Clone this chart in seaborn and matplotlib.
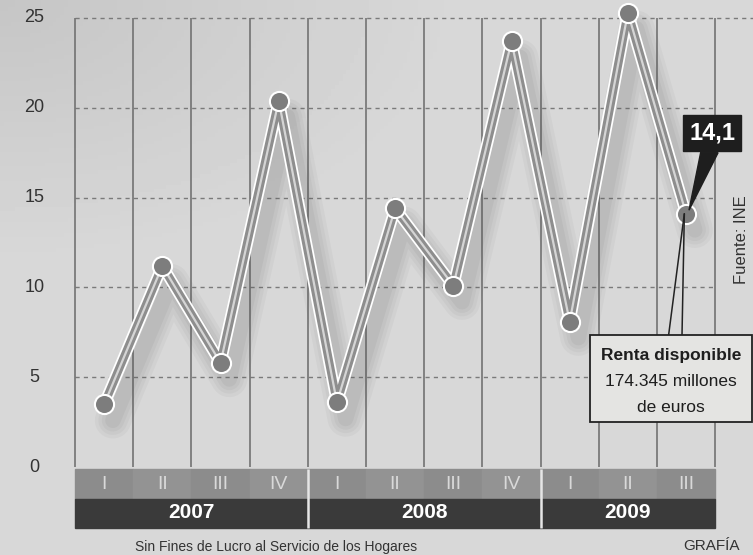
import numpy as np
import pandas as pd
import seaborn as sns
import matplotlib.pyplot as plt
from matplotlib.patches import Rectangle, Polygon

# data
quarters = ["I", "II", "III", "IV", "I", "II", "III", "IV", "I", "II", "III"]
years = ["2007", "2008", "2009"]
year_span = [4, 4, 3]
renta = [3.5, 11.2, 5.8, 20.4, 3.6, 14.4, 10.1, 23.7, 8.1, 25.3, 14.1]
y_ticks = [0, 5, 10, 15, 20, 25]

sns.set_theme(style="white")
plt.rcParams["font.family"] = ["Liberation Sans", "DejaVu Sans"]

df = pd.DataFrame({"pos": np.arange(len(renta)), "renta": renta})

fig = plt.figure(figsize=(7.53, 5.55), dpi=100)
fig.patch.set_facecolor("#d7d7d5")

# paper background with darker corner at top left
bg = fig.add_axes([0, 0, 1, 1], zorder=0)
gx, gy = np.meshgrid(np.linspace(0, 1, 200), np.linspace(0, 1, 150))
shade = 0.845 - 0.07 * np.clip(1 - np.hypot(gx, gy * 1.3) / 0.6, 0, 1)
bg.imshow(shade, cmap="gray", vmin=0, vmax=1, aspect="auto", extent=[0, 1, 0, 1], origin="upper")
bg.axis("off")

ax = fig.add_axes([0, 25 / 555, 1, 530 / 555], zorder=1)
ax.patch.set_alpha(0)
ax.set_xlim(-1.79, 11.15)
ax.set_ylim(-3.5, 26)
ax.axis("off")

n = len(renta)
# grid
for t in y_ticks[1:]:
    ax.hlines(t, -0.5, 10.5 if t < 25 else 11.2, colors="#7a7a7a", linestyles=(0, (3, 3)), lw=1)
for b in np.arange(n + 1) - 0.5:
    ax.vlines(b, 0, 25, colors="#6a6a6a", lw=1.1)
for t in y_ticks:
    ax.text(-1.2, t, str(t), ha="center", va="center", fontsize=13, color="#333333")

# soft shadow under the line
for k, a in enumerate([0.05, 0.05, 0.06, 0.07]):
    ax.plot(df["pos"] + 0.15, df["renta"] - 0.9, color="#555555", lw=26 - 5 * k, alpha=a,
            solid_capstyle="round", solid_joinstyle="round", zorder=2)

sns.lineplot(data=df, x="pos", y="renta", ax=ax, color="white", lw=8.5, zorder=3)
sns.lineplot(data=df, x="pos", y="renta", ax=ax, color="#8e8e8e", lw=6, zorder=4)
sns.lineplot(data=df, x="pos", y="renta", ax=ax, color="#d5d5d5", lw=1.6, zorder=5)
sns.scatterplot(data=df, x="pos", y="renta", ax=ax, s=190, color="#7d7d7d",
                edgecolor="white", linewidth=1.5, zorder=6)
ax.axis("off")

# category band
for i, q in enumerate(quarters):
    ax.add_patch(Rectangle((i - 0.5, -1.75), 1, 1.65, color=["#8c8c8c", "#939393"][i % 2], zorder=2))
    ax.text(i, -0.95, q, ha="center", va="center", fontsize=14, color="#d9d9d9")
start = -0.5
for yr, sp in zip(years, year_span):
    ax.add_patch(Rectangle((start, -3.4), sp, 1.65, color="#3a3a3a", zorder=2))
    ax.text(start + sp / 2, -2.55, yr, ha="center", va="center", fontsize=15,
            fontweight="bold", color="white")
    if start > -0.5:
        ax.vlines(start, -3.4, -0.1, colors="#e6e6e6", lw=1.8, zorder=3)
    start += sp

# value label of last point
last_x, last_y = n - 1, renta[-1]
ax.add_patch(Polygon([[10.25, 17.5], [10.55, 17.5], [last_x + 0.05, last_y + 0.2]],
                     closed=True, color="#1e1e1e", zorder=7))
ax.add_patch(Rectangle((9.95, 17.6), 1.0, 2.0, color="#1e1e1e", zorder=7))
ax.text(10.45, 18.6, "14,1", ha="center", va="center", fontsize=17, fontweight="bold",
        color="white", zorder=8)

# callout box
ax.plot([last_x - 0.03, 9.7], [last_y, 7.35], color="#222222", lw=1.1, zorder=7)
ax.plot([last_x - 0.03, 9.93], [last_y, 7.35], color="#222222", lw=1.1, zorder=7)
ax.add_patch(Rectangle((8.35, 2.5), 2.78, 4.85, facecolor="#e4e4e2", edgecolor="#222222",
                       lw=1.3, zorder=7))
ax.text(9.74, 6.2, "Renta disponible", ha="center", va="center", fontsize=12.5,
        fontweight="bold", color="#1e1e1e", zorder=8)
ax.text(9.74, 4.75, "174.345 millones", ha="center", va="center", fontsize=12.5,
        color="#1e1e1e", zorder=8)
ax.text(9.74, 3.3, "de euros", ha="center", va="center", fontsize=12.5,
        color="#1e1e1e", zorder=8)

fig.text(742 / 753, 1 - 240 / 555, "Fuente: INE", rotation=90, ha="center", va="center",
         fontsize=12, color="#333333")
fig.text(712 / 753, 1 - 546 / 555, "GRAFÍA", ha="center", va="center", fontsize=11,
         color="#333333")
fig.text(135 / 753, 1 - 547 / 555, "Sin Fines de Lucro al Servicio de los Hogares", ha="left",
         va="center", fontsize=10, color="#333333")

fig.savefig("out.png", dpi=100, facecolor=fig.get_facecolor())
